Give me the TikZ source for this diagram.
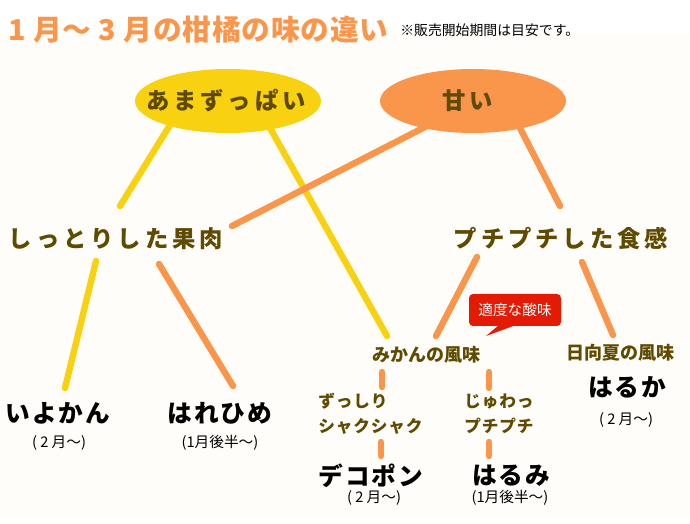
\documentclass[tikz,border=0pt]{standalone}
\usepackage{fontspec}
\usepackage{xcolor}
\usetikzlibrary{backgrounds,positioning,shapes}
\setmainfont{Noto Sans CJK JP}
\newfontfamily\titleface[LetterSpace=3]{Noto Sans CJK JP}
\newfontfamily\wideface[LetterSpace=17]{Noto Sans CJK JP}
\newfontfamily\fruitface[LetterSpace=8]{Noto Sans CJK JP}
\newfontfamily\midface[LetterSpace=5]{Noto Sans CJK JP}
\definecolor{paper}{RGB}{255,253,249}
\definecolor{sour}{RGB}{248,210,16}
\definecolor{sweet}{RGB}{249,150,75}
\definecolor{brown}{RGB}{94,74,0}
\definecolor{alert}{RGB}{227,27,5}

\begin{document}
\begin{tikzpicture}[x=0.75pt,y=-0.75pt]
    \tikzstyle{taste}=[ellipse,inner sep=0pt,minimum width=139.5pt,minimum height=48pt,%
    text=brown,font=\wideface\bfseries\fontsize{17.5}{20}\selectfont] %
    \tikzstyle{texture}=[inner sep=0pt,text=brown,font=\wideface\bfseries\fontsize{17.5}{20}\selectfont] %
    \tikzstyle{flavor}=[inner sep=0pt,text=brown,font=\bfseries\fontsize{13.5}{16}\selectfont] %
    \tikzstyle{feel}=[inner sep=0pt,align=left,text=brown,font=\midface\bfseries\fontsize{12.5}{19}\selectfont] %
    \tikzstyle{fruit}=[inner sep=0pt,text=black,font=\fruitface\bfseries\fontsize{18.5}{20}\selectfont] %
    \tikzstyle{month}=[inner sep=0pt,text=black,font=\fontsize{11}{12}\selectfont] %
    \tikzstyle{ysink}=[draw=sour,line width=4.8pt,line cap=round] %
    \tikzstyle{osink}=[draw=sweet,line width=4.8pt,line cap=round] %

    \useasboundingbox (0,0) rectangle (690,524);
    \fill[paper] (0,34) rectangle (690,518);

    \node[inner sep=0pt,anchor=west,text=sweet,font=\titleface\bfseries\fontsize{21.5}{24}\selectfont]
      (TITLE) at (8,30) {1 月〜 3 月の柑橘の味の違い};
    \node[inner sep=0pt,anchor=west,font=\fontsize{10.4}{12}\selectfont]
      (NOTE) at (400,30) {※販売開始期間は目安です。};

    \coordinate (YA) at (170,125);
    \coordinate (YB) at (120,206);
    \coordinate (YC) at (270,128);
    \coordinate (YD) at (387,336);
    \coordinate (YE) at (96,261);
    \coordinate (YF) at (65,388);
    \coordinate (OA) at (425,127);
    \coordinate (OB) at (232,226);
    \coordinate (OC) at (520,128);
    \coordinate (OD) at (560,206);
    \coordinate (OE) at (159,264);
    \coordinate (OF) at (233,386);
    \coordinate (OG) at (477,257);
    \coordinate (OH) at (436,336);
    \coordinate (OI) at (582,262);
    \coordinate (OJ) at (613,335);
    \coordinate (SA) at (382,372);
    \coordinate (SB) at (382,387);
    \coordinate (SC) at (489,372);
    \coordinate (SD) at (489,388);
    \coordinate (SE) at (381,442);
    \coordinate (SF) at (381,456);
    \coordinate (SG) at (489,442);
    \coordinate (SH) at (489,456);

    \draw[ysink] (YA) -- (YB);
    \draw[ysink] (YC) -- (YD);
    \draw[ysink] (YE) -- (YF);
    \draw[osink] (OA) -- (OB);
    \draw[osink] (OC) -- (OD);
    \draw[osink] (OE) -- (OF);
    \draw[osink] (OG) -- (OH);
    \draw[osink] (OI) -- (OJ);
    \draw[osink] (SA) -- (SB);
    \draw[osink] (SC) -- (SD);
    \draw[osink] (SE) -- (SF);
    \draw[osink] (SG) -- (SH);

    \node[taste,fill=sour] (SOUR) at (228,101) {\makebox[0pt]{\hspace*{-3pt}あまずっぱい}};
    \node[taste,fill=sweet] (SWEET) at (473,101) {\makebox[0pt]{\hspace*{-7.5pt}甘い}};

    \node[texture] (MOIST) at (116,239) {しっとりした果肉};
    \node[texture] (POP) at (561,239) {プチプチした食感};

    \node[flavor] (MIKAN) at (426,355) {みかんの風味};
    \node[flavor] (HYUGA) at (620,353) {日向夏の風味};

    \node[feel,anchor=west] (ZUSSHIRI) at (318,414) {ずっしり\\シャクシャク};
    \node[feel,anchor=west] (JUWA) at (464,414) {じゅわっ\\プチプチ};

    \node[fruit] (IYO) at (58,413) {いよかん};
    \node[fruit] (HARE) at (220,413) {はれひめ};
    \node[fruit] (DEKO) at (371,476) {デコポン};
    \node[fruit] (HARUMI) at (511,476) {はるみ};
    \node[fruit] (HARUKA) at (627,387) {はるか};

    \node[month] (IYOM) at (59,443) {( 2 月〜)};
    \node[month] (HAREM) at (220,443) {(1月後半〜)};
    \node[month] (DEKOM) at (374,498) {( 2 月〜)};
    \node[month] (HARUMIM) at (510,498) {(1月後半〜)};
    \node[month] (HARUKAM) at (626,420) {( 2 月〜)};

    \fill[alert] (499,320) -- (499,325) -- (486,336) -- (516,325) -- (516,320) -- cycle;
    \node[fill=alert,rounded corners=3pt,inner sep=0pt,minimum width=69pt,minimum height=24pt,%
      text=white,font=\fontsize{11}{12}\selectfont] (ACID) at (515,310) {適度な酸味};
\end{tikzpicture}
\end{document}
